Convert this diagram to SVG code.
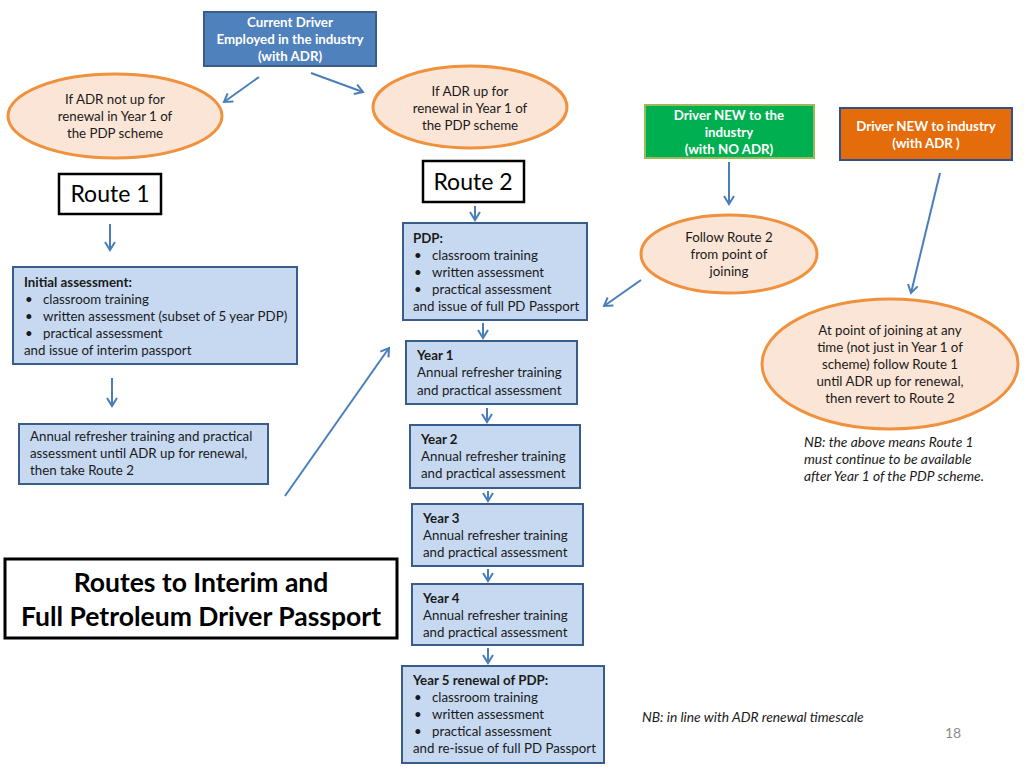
<svg xmlns="http://www.w3.org/2000/svg" width="1024" height="768" viewBox="0 0 1024 768">
<style>
text{font-family:Lato,"Open Sans","Liberation Sans",sans-serif;font-size:13.3px;fill:#1a1a1a}
.w{fill:#fff;font-weight:bold;text-anchor:middle}
.c{text-anchor:middle}
.b{font-weight:bold}
.i{font-style:italic;font-size:13.8px}
.box{fill:#c6d9f1;stroke:#385d8a;stroke-width:2}
.ell{fill:#fbe5d6;stroke:#f0913e;stroke-width:3}
.rt{fill:#fff;stroke:#000;stroke-width:2.5}
.rtt{font-size:23px;text-anchor:middle;fill:#000}
.ttl{font-size:26.5px;font-weight:bold;text-anchor:middle;fill:#000}
.con line{stroke:#4a7ebb;stroke-width:2;marker-end:url(#a)}
</style>
<defs>
<marker id="a" markerWidth="14" markerHeight="14" refX="9" refY="6" orient="auto" markerUnits="userSpaceOnUse">
<path d="M1,1 L9,6 L1,11" fill="none" stroke="#4a7ebb" stroke-width="2"/>
</marker>
</defs>
<rect width="1024" height="768" fill="#fff"/>
<g id="current">
<rect x="204" y="12" width="172" height="54" fill="#4f81bd" stroke="#385d8a" stroke-width="2"/>
<text class="w" x="290" y="27">Current Driver</text>
<text class="w" x="290" y="44">Employed in the industry</text>
<text class="w" x="290" y="61">(with ADR)</text>
</g>
<g id="ellLeft">
<ellipse class="ell" cx="115" cy="116" rx="107" ry="42"/>
<text class="c" x="115" y="104">If ADR not up for</text>
<text class="c" x="115" y="121">renewal in Year 1 of</text>
<text class="c" x="115" y="138">the PDP scheme</text>
</g>
<g id="ellMid">
<ellipse class="ell" cx="470" cy="107" rx="97" ry="41"/>
<text class="c" x="470" y="96">If ADR up for</text>
<text class="c" x="470" y="113">renewal in Year 1 of</text>
<text class="c" x="470" y="130">the PDP  scheme</text>
</g>
<g id="newNoAdr">
<rect x="645" y="105" width="169" height="53" fill="#00b050" stroke="#9bbb59" stroke-width="2"/>
<text class="w" x="729" y="120">Driver NEW to the</text>
<text class="w" x="729" y="137">industry</text>
<text class="w" x="729" y="154">(with NO ADR)</text>
</g>
<g id="newAdr">
<rect x="840" y="108" width="172" height="52" fill="#e46c0a" stroke="#2f528f" stroke-width="2"/>
<text class="w" x="926" y="131">Driver NEW to industry</text>
<text class="w" x="926" y="148">(with ADR )</text>
</g>
<g id="route1">
<rect class="rt" x="59" y="174" width="102" height="40"/>
<text class="rtt" x="110" y="202">Route 1</text>
</g>
<g id="route2">
<rect class="rt" x="423" y="161" width="101" height="41"/>
<text class="rtt" x="473" y="190">Route 2</text>
</g>
<g id="followRoute2">
<ellipse class="ell" cx="729" cy="254" rx="88" ry="39"/>
<text class="c" x="729" y="242">Follow Route 2</text>
<text class="c" x="729" y="259">from point of</text>
<text class="c" x="729" y="276">joining</text>
</g>
<g id="ellRight">
<ellipse class="ell" cx="890" cy="364" rx="128" ry="65"/>
<text class="c" x="890" y="335">At point of joining at any</text>
<text class="c" x="890" y="352">time (not just in Year 1 of</text>
<text class="c" x="890" y="369">scheme)  follow Route 1</text>
<text class="c" x="890" y="386">until ADR up for renewal,</text>
<text class="c" x="890" y="403">then revert to Route 2</text>
</g>
<g id="initial">
<rect class="box" x="13" y="267" width="284" height="97"/>
<text class="b" x="24" y="287">Initial assessment:</text>
<text x="25" y="304">•</text><text x="43" y="304">classroom training</text>
<text x="25" y="321">•</text><text x="43" y="321">written assessment (subset of 5 year PDP)</text>
<text x="25" y="338">•</text><text x="43" y="338">practical assessment</text>
<text x="24" y="355">and issue of interim passport</text>
</g>
<g id="annual">
<rect class="box" x="19" y="424" width="249" height="60"/>
<text x="30" y="441">Annual refresher training and practical</text>
<text x="30" y="458">assessment until ADR up for renewal,</text>
<text x="30" y="475">then take Route 2</text>
</g>
<g id="pdp">
<rect class="box" x="403" y="223" width="184" height="97"/>
<text class="b" x="413" y="243">PDP:</text>
<text x="414" y="260">•</text><text x="432" y="260">classroom training</text>
<text x="414" y="277">•</text><text x="432" y="277">written assessment</text>
<text x="414" y="294">•</text><text x="432" y="294">practical assessment</text>
<text x="413" y="311">and issue of full PD Passport</text>
</g>
<g id="year1">
<rect class="box" x="406" y="341" width="171" height="63"/>
<text class="b" x="417" y="360">Year 1</text>
<text x="417" y="377">Annual refresher training</text>
<text x="417" y="395">and practical assessment</text>
</g>
<g id="year2">
<rect class="box" x="410" y="425" width="170" height="63"/>
<text class="b" x="421" y="444">Year 2</text>
<text x="421" y="461">Annual refresher training</text>
<text x="421" y="478">and practical assessment</text>
</g>
<g id="year3">
<rect class="box" x="412" y="504" width="171" height="62"/>
<text class="b" x="423" y="523">Year 3</text>
<text x="423" y="540">Annual refresher training</text>
<text x="423" y="557">and practical assessment</text>
</g>
<g id="year4">
<rect class="box" x="412" y="584" width="171" height="61"/>
<text class="b" x="423" y="603">Year 4</text>
<text x="423" y="620">Annual refresher training</text>
<text x="423" y="637">and practical assessment</text>
</g>
<g id="year5">
<rect class="box" x="402" y="666" width="202" height="97"/>
<text class="b" x="413" y="685">Year 5 renewal of PDP:</text>
<text x="414" y="702">•</text><text x="432" y="702">classroom training</text>
<text x="414" y="719">•</text><text x="432" y="719">written assessment</text>
<text x="414" y="736">•</text><text x="432" y="736">practical assessment</text>
<text x="413" y="753">and re-issue of full PD Passport</text>
</g>
<g id="title">
<rect x="5" y="559" width="392" height="79" fill="#fff" stroke="#000" stroke-width="3"/>
<text class="ttl" x="201" y="592">Routes to Interim and</text>
<text class="ttl" x="201" y="626">Full Petroleum Driver Passport</text>
</g>
<g id="notes">
<text class="i" x="804" y="447">NB: the above means Route 1</text>
<text class="i" x="804" y="464">must continue to be available</text>
<text class="i" x="804" y="481">after Year 1 of the PDP scheme.</text>
<text class="i" x="642" y="722">NB: in line with ADR renewal timescale</text>
<text x="953" y="738" style="font-size:14px;fill:#8c8c8c;text-anchor:middle">18</text>
</g>
<g class="con" id="connectors">
<line x1="259" y1="77" x2="224" y2="102"/>
<line x1="311" y1="73" x2="363" y2="92"/>
<line x1="475" y1="206" x2="475" y2="220"/>
<line x1="110" y1="224" x2="110" y2="250"/>
<line x1="112" y1="378" x2="112" y2="406"/>
<line x1="729" y1="162" x2="729" y2="204"/>
<line x1="940" y1="173" x2="911" y2="293"/>
<line x1="641" y1="280" x2="604" y2="306"/>
<line x1="285" y1="496" x2="389" y2="348"/>
<line x1="483" y1="323" x2="483" y2="338"/>
<line x1="487" y1="408" x2="487" y2="422"/>
<line x1="488" y1="491" x2="488" y2="501"/>
<line x1="488" y1="569" x2="488" y2="581"/>
<line x1="488" y1="648" x2="488" y2="663"/>
</g>
</svg>
